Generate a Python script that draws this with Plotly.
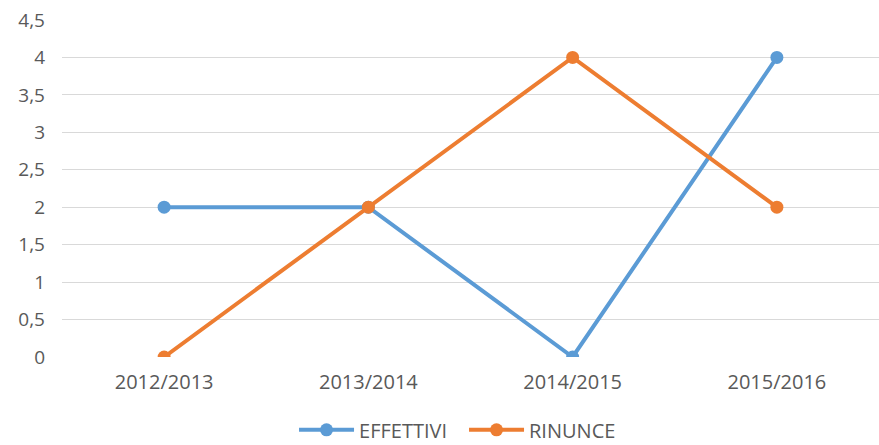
import plotly.graph_objects as go

# data
anni = ["2012/2013", "2013/2014", "2014/2015", "2015/2016"]
effettivi = [2, 2, 0, 4]
rinunce = [0, 2, 4, 2]

BLUE = "#5B9BD5"
ORANGE = "#ED7D31"
TEXT = "#595959"

fig = go.Figure()
fig.add_trace(go.Scatter(
    x=anni, y=effettivi, name="EFFETTIVI", mode="lines+markers",
    line=dict(color=BLUE, width=4),
    marker=dict(color=BLUE, size=13),
))
fig.add_trace(go.Scatter(
    x=anni, y=rinunce, name="RINUNCE", mode="lines+markers",
    line=dict(color=ORANGE, width=4),
    marker=dict(color=ORANGE, size=13),
))

fig.update_layout(
    width=879, height=445,
    margin=dict(l=62, r=0, t=20, b=88, autoexpand=False),
    paper_bgcolor="white", plot_bgcolor="white",
    separators=",.",
    font=dict(family="Open Sans", size=20, color=TEXT),
    showlegend=True,
    legend=dict(
        orientation="h", x=0.284, xanchor="left",
        y=-0.216, yanchor="middle",
        font=dict(size=20, color=TEXT),
        itemwidth=55, entrywidth=100,
    ),
    xaxis=dict(
        type="category", range=[-0.5, 3.5], automargin=False,
        showgrid=False, zeroline=False, showline=False,
        ticks="", ticklabelstandoff=11,
        tickfont=dict(size=20, color=TEXT),
    ),
    yaxis=dict(
        range=[0, 4.5], dtick=0.5, tick0=0, automargin=False,
        showgrid=True, gridcolor="#D9D9D9", gridwidth=1,
        zeroline=False, showline=False, ticks="",
        ticklabelstandoff=16,
        tickfont=dict(size=19, color=TEXT),
    ),
)

# the page body has an 8px default margin and may scroll; make the chart fill the window
fig.write_html("out.html", config={"displayModeBar": False},
               post_script="document.body.style.margin='0';"
                           "document.body.style.overflow='hidden';")
